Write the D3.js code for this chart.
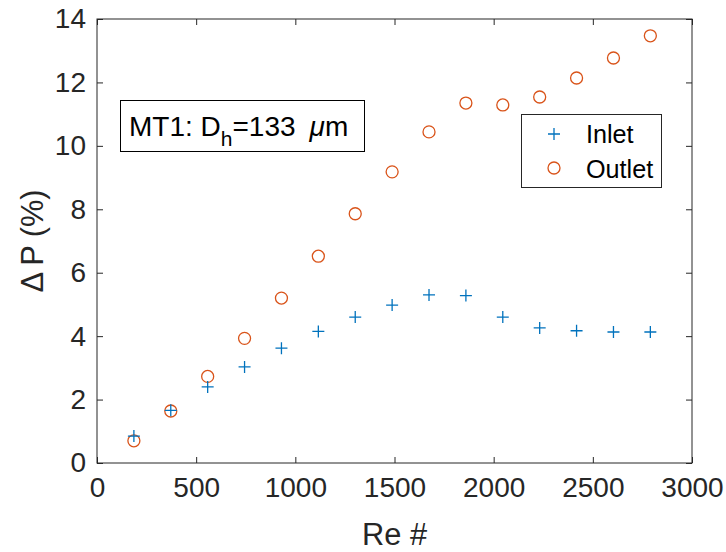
<!DOCTYPE html>
<html>
<head>
<meta charset="utf-8">
<script src="https://cdn.jsdelivr.net/npm/d3@7"></script>
<style>
  body { margin: 0; background: #fff; }
  svg { font-family: "Liberation Sans", Arial, sans-serif; }
</style>
</head>
<body>
<div id="chart"></div>
<script>
// Reynolds numbers and pressure drop readings (%)
const reValues = [186, 372, 558, 744, 930, 1116, 1302, 1488, 1674, 1860, 2046, 2232, 2418, 2604, 2790];
const inletDP = [0.85, 1.66, 2.40, 3.03, 3.62, 4.15, 4.60, 4.98, 5.30, 5.28, 4.60, 4.26, 4.17, 4.13, 4.13];
const outletDP = [0.70, 1.64, 2.73, 3.93, 5.20, 6.52, 7.86, 9.18, 10.44, 11.35, 11.29, 11.54, 12.14, 12.77, 13.47];
const xTicks = [0, 500, 1000, 1500, 2000, 2500, 3000];
const yTicks = [0, 2, 4, 6, 8, 10, 12, 14];

const width = 726;
const height = 552;
const margin = { top: 19, right: 34, bottom: 89, left: 97 };
const axisColor = "#262626";
const blue = "#0072BD";
const orange = "#D95319";

const svg = d3.select("#chart")
    .append("svg")
    .attr("width", width)
    .attr("height", height);

const x = d3.scaleLinear()
    .domain([0, 3000])
    .range([margin.left, width - margin.right]);

const y = d3.scaleLinear()
    .domain([0, 14])
    .range([height - margin.bottom, margin.top]);

const x0 = x.range()[0], x1 = x.range()[1];
const y0 = y.range()[0], y1 = y.range()[1];

// axes box
svg.append("rect")
    .attr("x", x0)
    .attr("y", y1)
    .attr("width", x1 - x0)
    .attr("height", y0 - y1)
    .attr("fill", "none")
    .attr("stroke", axisColor)
    .attr("stroke-width", 1);

const styleAxis = g => {
    g.select(".domain").remove();
    g.selectAll(".tick line").attr("stroke", axisColor);
    g.selectAll(".tick text")
        .attr("fill", axisColor)
        .style("font-size", "28px");
};

svg.append("g")
    .attr("transform", `translate(0,${y0})`)
    .call(d3.axisBottom(x).tickValues(xTicks).tickSize(-6).tickPadding(14).tickFormat(d3.format("d")))
    .call(styleAxis)
    .call(g => g.selectAll(".tick text").attr("dy", "0.71em"));

svg.append("g")
    .attr("transform", `translate(0,${y1})`)
    .call(d3.axisTop(x).tickValues(xTicks).tickSize(-6).tickFormat(""))
    .call(styleAxis);

svg.append("g")
    .attr("transform", `translate(${x0},0)`)
    .call(d3.axisLeft(y).tickValues(yTicks).tickSize(-6).tickPadding(11).tickFormat(d3.format("d")))
    .call(styleAxis);

svg.append("g")
    .attr("transform", `translate(${x1},0)`)
    .call(d3.axisRight(y).tickValues(yTicks).tickSize(-6).tickFormat(""))
    .call(styleAxis);

// axis labels
svg.append("text")
    .attr("x", (x0 + x1) / 2)
    .attr("y", 545)
    .attr("text-anchor", "middle")
    .attr("fill", axisColor)
    .style("font-size", "30.8px")
    .text("Re #");

svg.append("text")
    .attr("transform", "rotate(-90)")
    .attr("x", -(y0 + y1) / 2)
    .attr("y", 43)
    .attr("text-anchor", "middle")
    .attr("fill", axisColor)
    .style("font-size", "30.8px")
    .text("\u0394\u2009P (%)");

// markers
const plus = (g, cx, cy, s, color) => {
    g.append("path")
        .attr("d", `M${cx - s},${cy}H${cx + s}M${cx},${cy - s}V${cy + s}`)
        .attr("stroke", color)
        .attr("stroke-width", 1.3)
        .attr("fill", "none");
};

const outletG = svg.append("g");
outletG.selectAll("circle")
    .data(reValues.map((r, i) => ({ re: r, v: outletDP[i] })))
    .join("circle")
    .attr("cx", d => x(d.re))
    .attr("cy", d => y(d.v))
    .attr("r", 6)
    .attr("fill", "none")
    .attr("stroke", orange)
    .attr("stroke-width", 1.3);

const inletG = svg.append("g");
reValues.forEach((r, i) => plus(inletG, x(r), y(inletDP[i]), 6, blue));

// annotation box
const note = svg.append("g");
note.append("rect")
    .attr("x", 120.5)
    .attr("y", 100.5)
    .attr("width", 244)
    .attr("height", 51)
    .attr("fill", "#fff")
    .attr("stroke", "#000")
    .attr("stroke-width", 1);

const noteText = note.append("text")
    .attr("x", 129)
    .attr("y", 136)
    .attr("fill", "#000")
    .style("font-size", "28px");
noteText.append("tspan").text("MT1: D");
noteText.append("tspan").attr("dy", 10).style("font-size", "21px").text("h");
noteText.append("tspan").attr("dy", -10).text("=133\u2002");
noteText.append("tspan").style("font-style", "italic").text("\u03bc");
noteText.append("tspan").text("m");

// legend
const legend = svg.append("g");
legend.append("rect")
    .attr("x", 521.5)
    .attr("y", 114.5)
    .attr("width", 140)
    .attr("height", 73)
    .attr("fill", "#fff")
    .attr("stroke", axisColor)
    .attr("stroke-width", 1);

plus(legend, 554, 134, 6, blue);
legend.append("circle")
    .attr("cx", 554)
    .attr("cy", 168)
    .attr("r", 6)
    .attr("fill", "none")
    .attr("stroke", orange)
    .attr("stroke-width", 1.3);

legend.append("text")
    .attr("x", 586)
    .attr("y", 143)
    .attr("fill", "#000")
    .style("font-size", "25.2px")
    .text("Inlet");

legend.append("text")
    .attr("x", 586)
    .attr("y", 178)
    .attr("fill", "#000")
    .style("font-size", "25.2px")
    .text("Outlet");
</script>
</body>
</html>
